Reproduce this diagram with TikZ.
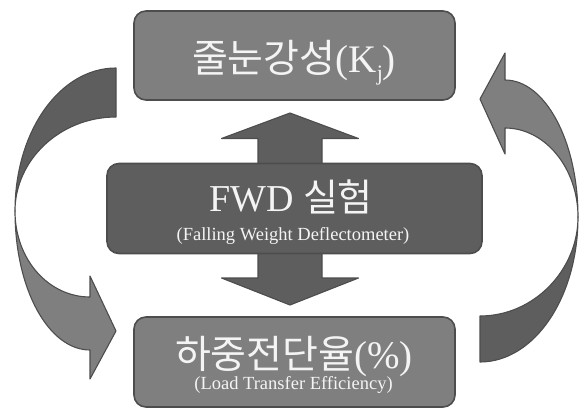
\documentclass[tikz,border=0pt]{standalone}
\usepackage{fontspec}
\setmainfont{Liberation Serif}
\newfontfamily\kr{Noto Sans CJK KR}
\definecolor{lightbox}{HTML}{7F7F7F}
\definecolor{darkbox}{HTML}{5E5E5E}
\definecolor{boxline}{HTML}{4D4D4D}
\definecolor{txt}{HTML}{F4F4F4}
\begin{document}
\begin{tikzpicture}[x=1pt,y=-1pt,
  box/.style={draw=boxline, line width=1.6pt, rounded corners=12pt, fill=#1, inner sep=0pt},
  ribbon/.style={draw=boxline, line width=1.1pt, fill=#1, line join=round},
  bigtxt/.style={text=txt, anchor=base, inner sep=0pt, font=\fontsize{39}{42}\selectfont},
  smalltxt/.style={text=txt, anchor=base, inner sep=0pt, font=\fontsize{18.5}{20}\selectfont}]
\useasboundingbox (0,0) rectangle (584,410);
% vertical double arrow behind the middle box
\coordinate (dtipa) at (290,113);
\coordinate (dtipb) at (290,305);
\draw[ribbon=darkbox] (dtipa) -- (358.5,138.5) -- (322,138.5) -- (322,278) -- (358.5,278) -- (dtipb)
  -- (221.5,278) -- (258,278) -- (258,138.5) -- (221.5,138.5) -- cycle;
% boxes
\node[box=lightbox, minimum width=321pt, minimum height=89pt] (topbox) at (294.5,55.5) {};
\node[box=darkbox, minimum width=375pt, minimum height=90pt] (midbox) at (294.5,208.5) {};
\node[box=lightbox, minimum width=321pt, minimum height=90pt] (botbox) at (294.5,362) {};
% texts
\node[bigtxt] (toptxt) at (294,72) {{\kr 줄눈강성}(K\raisebox{-0.22em}{\fontsize{22}{22}\selectfont j})};
\node[bigtxt,font=\fontsize{38}{40}\selectfont] (midtxt) at (291,211) {FWD {\kr 실험}};
\node[smalltxt] (midsub) at (293,240) {(Falling Weight Deflectometer)};
\node[bigtxt] (bottxt) at (294,368) {{\kr 하중전단율}(\%)};
\node[smalltxt] (botsub) at (293.5,389) {(Load Transfer Efficiency)};
% left curved arrow: upper (dark) part
\draw[ribbon=darkbox] (116,68) .. controls (60,68) and (15,131) .. (15,211)
  .. controls (15,160) and (60,117) .. (116,117) -- cycle;
% left curved arrow: lower (light) part with head
\draw[ribbon=lightbox] (15,211) .. controls (15,290) and (49,350) .. (90,350)
  -- (90,379) -- (116,331) -- (90,276) -- (90,297)
  .. controls (49,297) and (15,260) .. (15,211) -- cycle;
% right curved arrow: lower (dark) part
\draw[ribbon=darkbox] (480,362) .. controls (534,362) and (578,298) .. (578,217)
  .. controls (578,270) and (534,316) .. (480,316) -- cycle;
% right curved arrow: upper (light) part with head
\draw[ribbon=lightbox] (578,217) .. controls (578,141) and (545,80) .. (505,80)
  -- (505,53) -- (480,99) -- (505,154) -- (505,128)
  .. controls (545,128) and (578,168) .. (578,217) -- cycle;
\end{tikzpicture}
\end{document}
